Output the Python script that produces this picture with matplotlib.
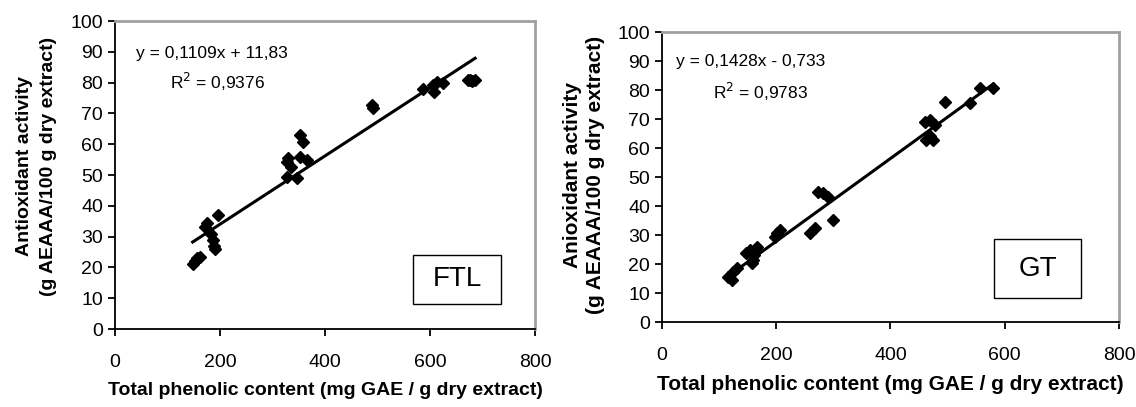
"""Antioxidant activity vs total phenolic content, FTL and GT panels."""

import matplotlib

matplotlib.use("Agg")
import matplotlib.pyplot as plt
from matplotlib.patches import Rectangle

plt.rcParams["font.family"] = ["Liberation Sans", "DejaVu Sans"]

# FTL panel
ftl_x = [148, 152, 157, 162, 172, 176, 183, 187, 188, 190, 197,
         327, 330, 336, 327, 346, 352, 359, 352, 365,
         489, 491, 587, 606, 608, 613, 625, 672, 676, 681, 686]
ftl_y = [21, 22, 23, 23.5, 33, 34.5, 31, 29, 27, 26, 37,
         54.3, 55.5, 52.7, 49.5, 49, 63, 60.8, 56, 55,
         72.7, 71.7, 78, 79.2, 77, 80.3, 79.8, 80.8, 80.8, 80.5, 80.8]
ftl_slope, ftl_intercept = 0.1109, 11.83
ftl_eq = "y = 0,1109x + 11,83"
ftl_r2 = "R$^2$ = 0,9376"

# GT panel
gt_x = [115, 122, 125, 131, 148, 154, 160, 162, 166, 158,
        198, 201, 207, 259, 268, 300, 274, 282, 291,
        460, 463, 469, 469, 475, 478, 496, 539, 557, 580]
gt_y = [15.5, 14.5, 17.3, 18.5, 23.7, 24.8, 21.4, 23, 26, 20.5,
        29.4, 30.6, 31.7, 30.6, 32.3, 35.2, 44.9, 44.4, 43.2,
        69, 62.8, 64, 69.7, 62.8, 68, 76, 75.4, 80.6, 80.6]
gt_slope, gt_intercept = 0.1428, -0.733
gt_eq = "y = 0,1428x - 0,733"
gt_r2 = "R$^2$ = 0,9783"

x_ticks = [0, 200, 400, 600, 800]
y_ticks = list(range(0, 101, 10))
x_label = "Total phenolic content (mg GAE / g dry extract)"


def draw_panel(ax, xs, ys, slope, intercept, eq, r2, tag, eq_pos, r2_pos, box,
               label_size):
    """Scatter with linear trendline, Excel-like styling."""
    ax.plot(xs, ys, "D", color="black", markersize=6.5, zorder=3)
    x0, x1 = min(xs), max(xs)
    ax.plot([x0, x1], [slope * x0 + intercept, slope * x1 + intercept],
            color="black", lw=2.2, zorder=2)
    ax.set_xlim(0, 800)
    ax.set_ylim(0, 100)
    ax.set_xticks(x_ticks)
    ax.set_yticks(y_ticks)
    ax.tick_params(direction="out", length=5, width=1.3, labelsize=14,
                   colors="black")
    ax.tick_params(axis="x", pad=13)
    for side in ("left", "bottom"):
        ax.spines[side].set_linewidth(1.3)
        ax.spines[side].set_color("black")
    for side in ("top", "right"):
        ax.spines[side].set_linewidth(2)
        ax.spines[side].set_color("#a0a0a0")
    ax.text(*eq_pos, eq, fontsize=12.5, va="center", ha="left")
    ax.text(*r2_pos, r2, fontsize=12.5, va="center", ha="left")
    bx0, by0, bx1, by1 = box
    ax.add_patch(Rectangle((bx0, by0), bx1 - bx0, by1 - by0, fc="white",
                           ec="black", lw=1, zorder=4))
    ax.text((bx0 + bx1) / 2, (by0 + by1) / 2, tag, fontsize=20, ha="center",
            va="center", zorder=5)
    ax.set_xlabel(x_label, fontsize=label_size, fontweight="bold", labelpad=8)


fig = plt.figure(figsize=(11.36, 4.07), dpi=100)
ax1 = fig.add_axes([0.1012, 0.1916, 0.3697, 0.7568])
ax2 = fig.add_axes([0.5827, 0.2088, 0.4023, 0.7125])

draw_panel(ax1, ftl_x, ftl_y, ftl_slope, ftl_intercept, ftl_eq, ftl_r2, "FTL",
           (40, 89.4), (104, 80.2), (568, 8.1, 735, 24.1), 14)
draw_panel(ax2, gt_x, gt_y, gt_slope, gt_intercept, gt_eq, gt_r2, "GT",
           (24, 89.9), (89, 79.3), (582, 8.4, 734, 28.5), 15)

ylab_kw = dict(rotation=90, fontweight="bold", ha="center", va="center")
fig.text(25 / 1136, 1 - 166 / 407, "Antioxidant activity", fontsize=14, **ylab_kw)
fig.text(49 / 1136, 1 - 166 / 407, "(g AEAAA/100 g dry extract)", fontsize=14,
         **ylab_kw)
fig.text(572 / 1136, 1 - 175 / 407, "Anioxidant activity", fontsize=15, **ylab_kw)
fig.text(595 / 1136, 1 - 175 / 407, "(g AEAAA/100 g dry extract)", fontsize=15,
         **ylab_kw)

fig.savefig("out.png", dpi=100)
